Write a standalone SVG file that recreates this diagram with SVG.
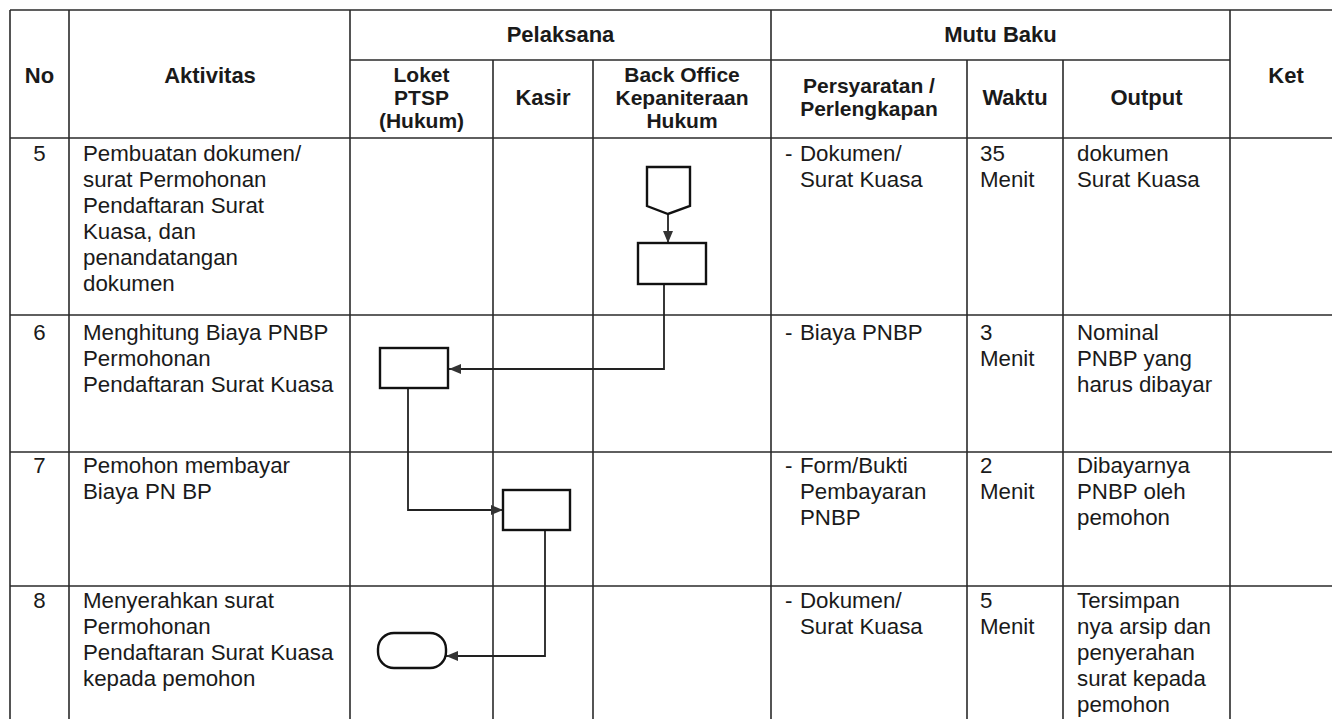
<svg xmlns="http://www.w3.org/2000/svg" width="1332" height="719" viewBox="0 0 1332 719">
<style>
.grid line{stroke:#2a2a2a;stroke-width:1.6}
.h{font-family:"Liberation Sans",Arial,sans-serif;font-weight:bold;font-size:22px;fill:#1a1a1a;text-anchor:middle}
.s{font-size:21px}
.t{font-family:"Liberation Sans",Arial,sans-serif;font-size:22.3px;fill:#1a1a1a}
.c{text-anchor:middle}
.shape{fill:#fff;stroke:#111;stroke-width:2.4}
.conn{fill:none;stroke:#222;stroke-width:1.8}
</style>
<defs>
<marker id="arr" viewBox="0 0 12 10" refX="12" refY="5" markerWidth="12" markerHeight="10" markerUnits="userSpaceOnUse" orient="auto">
<path d="M0,0 L12,5 L0,10 z" fill="#333"/>
</marker>
</defs>
<rect width="1332" height="719" fill="#fff"/>
<g class="grid">
<line x1="10" y1="10" x2="1332" y2="10"/>
<line x1="350" y1="60" x2="1230" y2="60"/>
<line x1="10" y1="138" x2="1332" y2="138"/>
<line x1="10" y1="315" x2="1332" y2="315"/>
<line x1="10" y1="452" x2="1332" y2="452"/>
<line x1="10" y1="586" x2="1332" y2="586"/>
<line x1="10" y1="10" x2="10" y2="719"/>
<line x1="69" y1="10" x2="69" y2="719"/>
<line x1="350" y1="10" x2="350" y2="719"/>
<line x1="493" y1="60" x2="493" y2="719"/>
<line x1="593" y1="60" x2="593" y2="719"/>
<line x1="771" y1="10" x2="771" y2="719"/>
<line x1="967" y1="60" x2="967" y2="719"/>
<line x1="1063" y1="60" x2="1063" y2="719"/>
<line x1="1230" y1="10" x2="1230" y2="719"/>
</g>
<g id="header">
<text class="h" x="39.5" y="83">No</text>
<text class="h" x="210" y="83">Aktivitas</text>
<text class="h" x="560.5" y="42">Pelaksana</text>
<text class="h" x="1000.5" y="42">Mutu Baku</text>
<text class="h" x="1286" y="83">Ket</text>
<text class="h s" x="421.5" y="82">Loket</text>
<text class="h s" x="421.5" y="105">PTSP</text>
<text class="h s" x="421.5" y="128">(Hukum)</text>
<text class="h" x="543" y="105">Kasir</text>
<text class="h s" x="682" y="82">Back Office</text>
<text class="h s" x="682" y="105">Kepaniteraan</text>
<text class="h s" x="682" y="128">Hukum</text>
<text class="h s" x="869" y="93">Persyaratan /</text>
<text class="h s" x="869" y="116">Perlengkapan</text>
<text class="h" x="1015" y="105">Waktu</text>
<text class="h" x="1146.5" y="105">Output</text>
</g>
<g id="row5">
<text class="t c" x="39.5" y="161">5</text>
<text class="t" x="83" y="161">Pembuatan dokumen/</text>
<text class="t" x="83" y="187">surat Permohonan</text>
<text class="t" x="83" y="213">Pendaftaran Surat</text>
<text class="t" x="83" y="239">Kuasa, dan</text>
<text class="t" x="83" y="265">penandatangan</text>
<text class="t" x="83" y="291">dokumen</text>
<text class="t" x="785" y="161">-</text>
<text class="t" x="800" y="161">Dokumen/</text>
<text class="t" x="800" y="187">Surat Kuasa</text>
<text class="t" x="980" y="161">35</text>
<text class="t" x="980" y="187">Menit</text>
<text class="t" x="1077" y="161">dokumen</text>
<text class="t" x="1077" y="187">Surat Kuasa</text>
</g>
<g id="row6">
<text class="t c" x="39.5" y="340">6</text>
<text class="t" x="83" y="340">Menghitung Biaya PNBP</text>
<text class="t" x="83" y="366">Permohonan</text>
<text class="t" x="83" y="392">Pendaftaran Surat Kuasa</text>
<text class="t" x="785" y="340">-</text>
<text class="t" x="800" y="340">Biaya PNBP</text>
<text class="t" x="980" y="340">3</text>
<text class="t" x="980" y="366">Menit</text>
<text class="t" x="1077" y="340">Nominal</text>
<text class="t" x="1077" y="366">PNBP yang</text>
<text class="t" x="1077" y="392">harus dibayar</text>
</g>
<g id="row7">
<text class="t c" x="39.5" y="473">7</text>
<text class="t" x="83" y="473">Pemohon membayar</text>
<text class="t" x="83" y="499">Biaya PN BP</text>
<text class="t" x="785" y="473">-</text>
<text class="t" x="800" y="473">Form/Bukti</text>
<text class="t" x="800" y="499">Pembayaran</text>
<text class="t" x="800" y="525">PNBP</text>
<text class="t" x="980" y="473">2</text>
<text class="t" x="980" y="499">Menit</text>
<text class="t" x="1077" y="473">Dibayarnya</text>
<text class="t" x="1077" y="499">PNBP oleh</text>
<text class="t" x="1077" y="525">pemohon</text>
</g>
<g id="row8">
<text class="t c" x="39.5" y="608">8</text>
<text class="t" x="83" y="608">Menyerahkan surat</text>
<text class="t" x="83" y="634">Permohonan</text>
<text class="t" x="83" y="660">Pendaftaran Surat Kuasa</text>
<text class="t" x="83" y="686">kepada pemohon</text>
<text class="t" x="785" y="608">-</text>
<text class="t" x="800" y="608">Dokumen/</text>
<text class="t" x="800" y="634">Surat Kuasa</text>
<text class="t" x="980" y="608">5</text>
<text class="t" x="980" y="634">Menit</text>
<text class="t" x="1077" y="608">Tersimpan</text>
<text class="t" x="1077" y="634">nya arsip dan</text>
<text class="t" x="1077" y="660">penyerahan</text>
<text class="t" x="1077" y="686">surat kepada</text>
<text class="t" x="1077" y="712">pemohon</text>
</g>
<g id="connectors">
<path class="conn" d="M668,214 L668,243" marker-end="url(#arr)"/>
<path class="conn" d="M664,284 L664,369 L449,369" marker-end="url(#arr)"/>
<path class="conn" d="M408,388 L408,510 L503,510" marker-end="url(#arr)"/>
<path class="conn" d="M545,530 L545,656 L446,656" marker-end="url(#arr)"/>
</g>
<g id="n-offpage"><polygon class="shape" points="647,167 690,167 690,206 668,214 647,206"/></g>
<g id="n-backoffice"><rect class="shape" x="638" y="243" width="68" height="41"/></g>
<g id="n-loket"><rect class="shape" x="380" y="348" width="68" height="40"/></g>
<g id="n-kasir"><rect class="shape" x="503" y="490" width="67" height="40"/></g>
<g id="n-end"><rect class="shape" x="378" y="633" width="68" height="35" rx="16" ry="16"/></g>
</svg>
